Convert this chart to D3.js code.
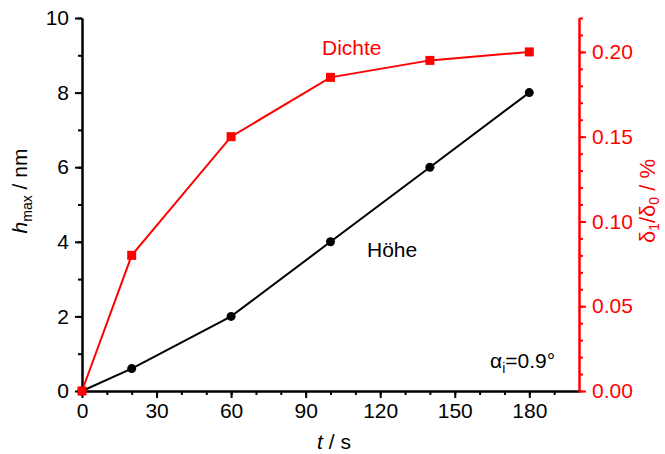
<html>
<head>
<script src="https://d3js.org/d3.v7.min.js"></script>
<style>
  body { margin: 0; background: #fff; }
  text { font-family: "Liberation Sans", Arial, sans-serif; }
</style>
</head>
<body>
<svg id="chart" width="665" height="454"></svg>
<script>
// data
var times = [0, 20, 60, 100, 140, 180];
var hoehe = [0, 0.6, 2, 4, 6, 8];              // h_max / nm (left axis)
var dichte = [0, 0.08, 0.15, 0.185, 0.195, 0.2]; // delta1/delta0 / % (right axis)

var xTicks = [0, 30, 60, 90, 120, 150, 180];
var xMinor = d3.range(0, 200, 10);
var yLeftTicks = [0, 2, 4, 6, 8, 10];
var yLeftMinor = d3.range(0, 11, 1);
var yRightTicks = [0, 0.05, 0.1, 0.15, 0.2];
var yRightMinor = d3.range(0, 0.2201, 0.01);

var red = "#ff0000";
var fs = 21;

var svg = d3.select("#chart");

var x = d3.scaleLinear().domain([0, 200]).range([82, 579]);
var yL = d3.scaleLinear().domain([0, 10]).range([391, 18]);
var yR = d3.scaleLinear().domain([0, 0.22]).range([391, 18]);

function style(g, color) {
    g.select(".domain").attr("stroke", color).attr("stroke-width", 2);
    g.selectAll(".tick line").attr("stroke", color).attr("stroke-width", 2);
    g.selectAll(".tick text").attr("fill", color)
        .style("font-family", "Liberation Sans, Arial, sans-serif")
        .style("font-size", fs + "px");
}

// x axis
svg.append("g").attr("transform", "translate(0,391)")
    .call(d3.axisBottom(x).tickValues(xMinor).tickSize(4).tickSizeOuter(0).tickFormat(""))
    .call(function(g) { style(g, "#000"); });
svg.append("g").attr("transform", "translate(0,391)")
    .call(d3.axisBottom(x).tickValues(xTicks).tickSize(7).tickSizeOuter(0).tickPadding(5))
    .call(function(g) { style(g, "#000"); });

// left axis
svg.append("g").attr("transform", "translate(82,0)")
    .call(d3.axisLeft(yL).tickValues(yLeftMinor).tickSize(4).tickSizeOuter(0).tickFormat(""))
    .call(function(g) { style(g, "#000"); });
svg.append("g").attr("transform", "translate(82,0)")
    .call(d3.axisLeft(yL).tickValues(yLeftTicks).tickSize(7).tickSizeOuter(0).tickPadding(6))
    .call(function(g) { style(g, "#000"); });

// right axis
svg.append("g").attr("transform", "translate(579,0)")
    .call(d3.axisRight(yR).tickValues(yRightMinor).tickSize(4).tickSizeOuter(0).tickFormat(""))
    .call(function(g) { style(g, red); });
svg.append("g").attr("transform", "translate(579,0)")
    .call(d3.axisRight(yR).tickValues(yRightTicks).tickSize(7).tickSizeOuter(0).tickPadding(6)
        .tickFormat(d3.format(".2f")))
    .call(function(g) { style(g, red); });

// lines
var hData = times.map(function(t, i) { return [t, hoehe[i]]; });
var dData = times.map(function(t, i) { return [t, dichte[i]]; });

svg.append("path").datum(hData)
    .attr("fill", "none").attr("stroke", "#000").attr("stroke-width", 2)
    .attr("d", d3.line().x(function(d) { return x(d[0]); }).y(function(d) { return yL(d[1]); }));
svg.selectAll(".hdot").data(hData).enter().append("circle")
    .attr("cx", function(d) { return x(d[0]); })
    .attr("cy", function(d) { return yL(d[1]); })
    .attr("r", 4.5).attr("fill", "#000");

svg.append("path").datum(dData)
    .attr("fill", "none").attr("stroke", red).attr("stroke-width", 2)
    .attr("d", d3.line().x(function(d) { return x(d[0]); }).y(function(d) { return yR(d[1]); }));
svg.selectAll(".dsq").data(dData).enter().append("rect")
    .attr("x", function(d) { return x(d[0]) - 4.5; })
    .attr("y", function(d) { return yR(d[1]) - 4.5; })
    .attr("width", 9).attr("height", 9).attr("fill", red);

// axis titles
var xt = svg.append("text").attr("x", 334).attr("y", 449).attr("text-anchor", "middle")
    .style("font-size", fs + "px");
xt.append("tspan").style("font-style", "italic").text("t");
xt.append("tspan").text(" / s");

var yt = svg.append("text").attr("transform", "translate(27,191) rotate(-90)")
    .attr("text-anchor", "middle").style("font-size", fs + "px");
yt.append("tspan").style("font-style", "italic").text("h");
yt.append("tspan").attr("dy", 5).style("font-size", "14px").text("max");
yt.append("tspan").attr("dy", -5).text(" / nm");

var rt = svg.append("text").attr("transform", "translate(655,201) rotate(-90)")
    .attr("text-anchor", "middle").attr("fill", red).style("font-size", "22px");
rt.append("tspan").text("δ");
rt.append("tspan").attr("dy", 4).style("font-size", "14px").text("1");
rt.append("tspan").attr("dy", -4).text("/δ");
rt.append("tspan").attr("dy", 4).style("font-size", "14px").text("0");
rt.append("tspan").attr("dy", -4).text(" / %");

// annotations
svg.append("text").attr("x", 322).attr("y", 55).attr("fill", red)
    .style("font-size", fs + "px").text("Dichte");
svg.append("text").attr("x", 367).attr("y", 257).attr("fill", "#000")
    .style("font-size", fs + "px").text("Höhe");
var al = svg.append("text").attr("x", 490).attr("y", 368).style("font-size", fs + "px");
al.append("tspan").text("α");
al.append("tspan").attr("dy", 5).style("font-size", "14px").text("i");
al.append("tspan").attr("dy", -5).text("=0.9°");
</script>
</body>
</html>
